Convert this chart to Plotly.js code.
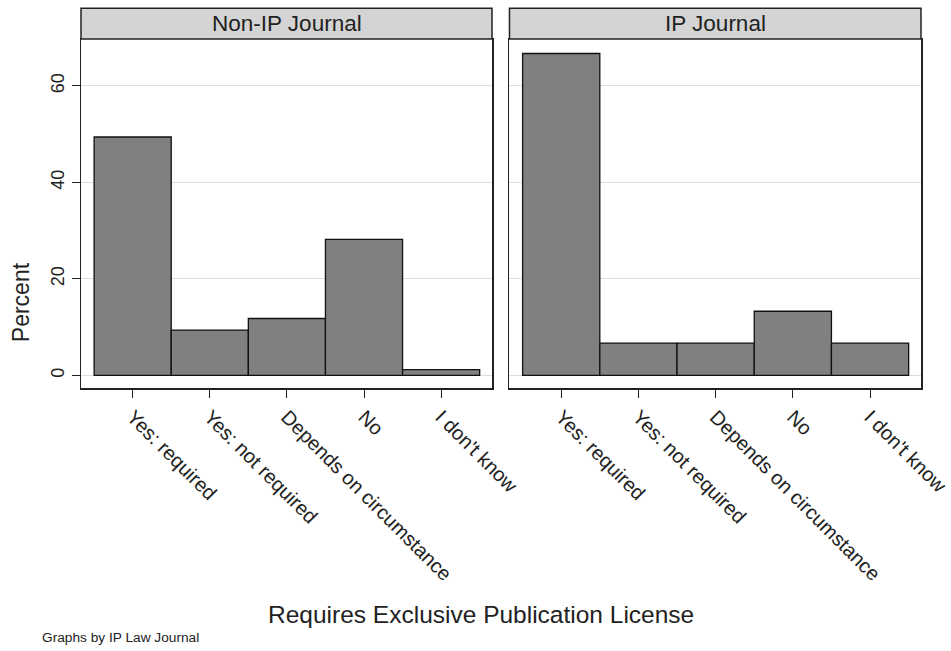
<!DOCTYPE html>
<html>
<head>
<meta charset="utf-8">
<script src="https://cdn.plot.ly/plotly-3.0.1.min.js"></script>
<style>html,body{margin:0;padding:0;background:#fff;}#chart{width:951px;height:651px;}</style>
</head>
<body>
<div id="chart"></div>
<script>
const categories = ['Yes: required', 'Yes: not required', 'Depends on circumstance', 'No', "I don't know"];
const nonIPJournal = [49.4, 9.4, 11.8, 28.2, 1.2];
const ipJournal = [66.7, 6.7, 6.7, 13.3, 6.7];
const panelTitles = ['Non-IP Journal', 'IP Journal'];
const yTicks = [0, 20, 40, 60];

const FONT = '"Liberation Sans", Arial, Helvetica, sans-serif';
const barStyle = {color: '#808080', line: {color: '#111', width: 1.3}};

const traces = [
  {type: 'bar', x: categories, y: nonIPJournal, xaxis: 'x', yaxis: 'y', marker: barStyle, showlegend: false, hoverinfo: 'x+y'},
  {type: 'bar', x: categories, y: ipJournal, xaxis: 'x2', yaxis: 'y2', marker: barStyle, showlegend: false, hoverinfo: 'x+y'}
];

const dom1 = [0, 0.4893];
const dom2 = [0.5101, 1];
const xCommon = {
  type: 'category', range: [-0.67, 4.66], showline: true, mirror: true, linecolor: '#222', linewidth: 1.5,
  ticks: 'outside', ticklen: 8, tickwidth: 1, tickcolor: '#222', tickangle: 45,
  tickfont: {family: FONT, size: 20, color: '#222'}, showgrid: false, zeroline: false, fixedrange: true
};
const yCommon = {
  range: [-2.6, 69.7], tickvals: yTicks, showline: true, mirror: true, linecolor: '#222', linewidth: 1.5,
  showgrid: true, gridcolor: '#dedede', gridwidth: 1, zeroline: false, fixedrange: true
};

const layout = {
  width: 951, height: 651,
  margin: {l: 81, r: 30, t: 39, b: 263},
  paper_bgcolor: '#fff', plot_bgcolor: '#fff',
  bargap: 0,
  font: {family: FONT, color: '#222'},
  xaxis: Object.assign({}, xCommon, {domain: dom1, anchor: 'y'}),
  xaxis2: Object.assign({}, xCommon, {domain: dom2, anchor: 'y2'}),
  yaxis: Object.assign({}, yCommon, {anchor: 'x', ticks: 'outside', ticklen: 8, tickwidth: 1, tickcolor: '#222', tickangle: -90,
    tickfont: {family: FONT, size: 18, color: '#222'}}),
  yaxis2: Object.assign({}, yCommon, {anchor: 'x2', matches: 'y', showticklabels: false, ticks: ''}),
  shapes: [
    {type: 'rect', xref: 'paper', yref: 'paper', x0: dom1[0], x1: dom1[1], y0: 1, y1: 1.088, fillcolor: '#d4d4d4', line: {color: '#222', width: 1.5}},
    {type: 'rect', xref: 'paper', yref: 'paper', x0: dom2[0], x1: dom2[1], y0: 1, y1: 1.088, fillcolor: '#d4d4d4', line: {color: '#222', width: 1.5}}
  ],
  annotations: [
    {text: panelTitles[0], xref: 'paper', yref: 'paper', x: (dom1[0] + dom1[1]) / 2, y: 1.044, xanchor: 'center', yanchor: 'middle', showarrow: false, font: {family: FONT, size: 22.5, color: '#222'}},
    {text: panelTitles[1], xref: 'paper', yref: 'paper', x: (dom2[0] + dom2[1]) / 2, y: 1.044, xanchor: 'center', yanchor: 'middle', showarrow: false, font: {family: FONT, size: 22.5, color: '#222'}},
    {text: 'Percent', xref: 'paper', yref: 'paper', x: -0.0714, y: 0.246, xanchor: 'center', yanchor: 'middle', textangle: -90, showarrow: false, font: {family: FONT, size: 23, color: '#222'}},
    {text: 'Requires Exclusive Publication License', xref: 'paper', yref: 'paper', x: 0.476, y: -0.650, xanchor: 'center', yanchor: 'middle', showarrow: false, font: {family: FONT, size: 24.5, color: '#222'}},
    {text: 'Graphs by IP Law Journal', xref: 'paper', yref: 'paper', x: -0.0488, y: -0.716, xanchor: 'left', yanchor: 'middle', showarrow: false, font: {family: FONT, size: 13.7, color: '#222'}}
  ]
};

Plotly.newPlot('chart', traces, layout, {displayModeBar: false, staticPlot: true});
</script>
</body>
</html>
